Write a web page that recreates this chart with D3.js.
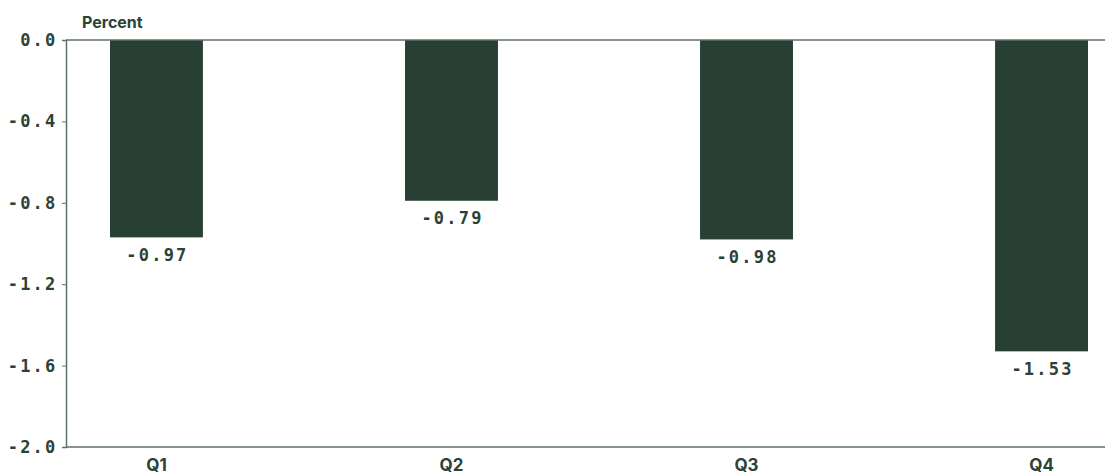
<!DOCTYPE html>
<html>
<head>
<meta charset="utf-8">
<script src="https://cdn.jsdelivr.net/npm/d3@7"></script>
<style>
  html, body { margin: 0; padding: 0; background: #fff; }
  svg { display: block; }
  .num { font-family: "DejaVu Sans Mono", monospace; font-weight: bold; fill: #2b4236; letter-spacing: 2.2px; }
  .lab { font-family: Inter, "Liberation Sans", Arial, sans-serif; font-weight: bold; fill: #2b4236; }
</style>
</head>
<body>
<svg id="chart" width="1118" height="474"></svg>
<script>
// Quarterly change, percent
const categories = ["Q1", "Q2", "Q3", "Q4"];
const values = [-0.97, -0.79, -0.98, -1.53];
const yTicks = [0.0, -0.4, -0.8, -1.2, -1.6, -2.0];

const svg = d3.select("#chart");
const barColor = "#284033";
const axisColor = "#5f7068";

const y = d3.scaleLinear().domain([0, -2.0]).range([40, 447]);
const x = d3.scaleBand().domain(categories).range([110, 1088])
  .paddingInner(0.685).paddingOuter(0);

// bars
svg.append("g").selectAll("rect").data(values).join("rect")
  .attr("x", (d, i) => x(categories[i]))
  .attr("y", y(0))
  .attr("width", x.bandwidth())
  .attr("height", d => y(d) - y(0))
  .attr("fill", barColor);

// value labels under each bar (trailing letter-spacing offset by +1px)
svg.append("g").selectAll("text").data(values).join("text")
  .attr("class", "num")
  .attr("x", (d, i) => x(categories[i]) + x.bandwidth() / 2 + 1)
  .attr("y", d => y(d) + 23.5)
  .attr("text-anchor", "middle")
  .attr("font-size", 17)
  .text(d => d.toFixed(2));

// y axis
const yAxis = svg.append("g").attr("transform", "translate(66,0)")
  .call(d3.axisLeft(y).tickValues(yTicks).tickSize(4).tickFormat(d3.format(".1f")));
yAxis.select(".domain").attr("stroke", axisColor).attr("stroke-width", 1.5);
yAxis.selectAll(".tick line").attr("stroke", axisColor);
yAxis.selectAll(".tick text")
  .attr("class", "num").attr("font-size", 17).attr("x", -8.5)
  .attr("fill", null)
  .text(d => d === 0 ? "0.0" : d3.format(".1f")(d).replace("−", "-"));

// zero line and bottom baseline
svg.append("line").attr("x1", 66).attr("x2", 1105)
  .attr("y1", y(0)).attr("y2", y(0))
  .attr("stroke", axisColor).attr("stroke-width", 1.5);
svg.append("line").attr("x1", 66).attr("x2", 1105)
  .attr("y1", y(-2)).attr("y2", y(-2))
  .attr("stroke", axisColor).attr("stroke-width", 1.5);

// category labels
svg.append("g").selectAll("text").data(categories).join("text")
  .attr("class", "lab")
  .attr("x", d => x(d) + x.bandwidth() / 2)
  .attr("y", 471)
  .attr("text-anchor", "middle")
  .attr("font-size", 17)
  .text(d => d);

// unit label
svg.append("text").attr("class", "lab")
  .attr("x", 82).attr("y", 27.5).attr("font-size", 16)
  .text("Percent");
</script>
</body>
</html>
